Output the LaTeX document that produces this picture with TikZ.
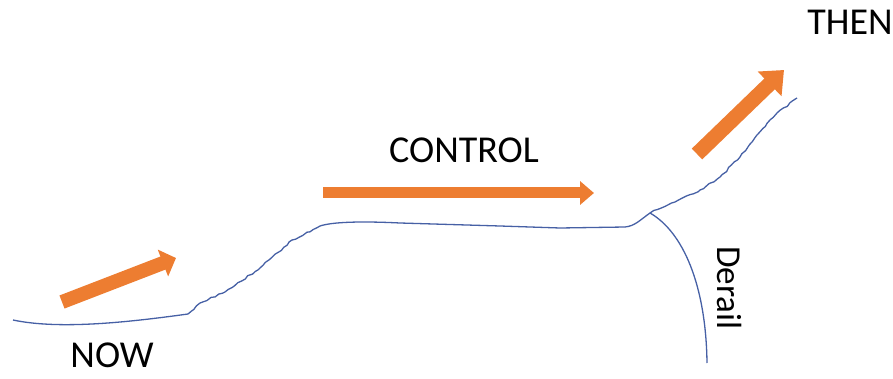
\documentclass[tikz,border=0pt]{standalone}
\usepackage{fontspec}
\setmainfont{Carlito}
\usepackage{tikz}
\usetikzlibrary{arrows.meta,decorations.pathmorphing}

\definecolor{pathblue}{RGB}{70,96,165}
\definecolor{goorange}{RGB}{237,125,49}

\begin{document}
\begin{tikzpicture}[x=1pt, y=-1pt,
    every node/.style={font=\fontsize{38}{44}\selectfont, anchor=base, inner sep=0pt},
    road/.style={draw=pathblue, line width=1.3pt, line join=round},
    rough/.style={decoration={random steps, segment length=4pt, amplitude=0.9pt}},
    push/.style={draw=goorange, line width=#1}]
              \useasboundingbox (0,0) rectangle (893,379);

              \coordinate (start) at (13,320);
              \coordinate (climbA) at (188,314);
              \coordinate (plateau) at (320,226);
              \coordinate (fork) at (650,213);
              \coordinate (top) at (797,98);
              \coordinate (drop) at (707,363);

              \coordinate (nowTail) at (62,302);
              \coordinate (nowTip) at (176,258);
              \coordinate (ctrlTail) at (323,193);
              \coordinate (ctrlTip) at (594,193);
              \coordinate (thenTail) at (697,154);
              \coordinate (thenTip) at (784,70);

              \node (now) at (112,367) {NOW};
              \node (control) at (464,163) {CONTROL};
              \node (then) at (850,35) {THEN};
              \node[rotate=-90, font=\fontsize{35}{40}\selectfont] (derail) at (717,288) {Derail};

              \draw[road] (start) .. controls (60,330) and (130,322) .. (climbA)
                decorate[rough] {-- (200,303) -- (225,292) -- (260,268) -- (292,240) -- (plateau)}
                .. controls (332,222) and (360,221) .. (400,223) -- (500,226) -- (560,228) -- (625,227)
                .. controls (635,226) and (640,220) .. (fork)
                decorate[rough] {-- (700,190) -- (720,177) -- (740,157) -- (757,135) -- (777,113) -- (top)};
              \draw[road] (fork) .. controls (683,232) and (706,285) .. (drop);

              \draw[push=14pt, -{Triangle[length=14pt, width=28pt]}] (nowTail) -- (nowTip);
              \draw[push=11pt, -{Triangle[length=14pt, width=23pt]}] (ctrlTail) -- (ctrlTip);
              \draw[push=15pt, -{Triangle[length=20pt, width=33pt]}] (thenTail) -- (thenTip);
            \end{tikzpicture}
\end{document}
